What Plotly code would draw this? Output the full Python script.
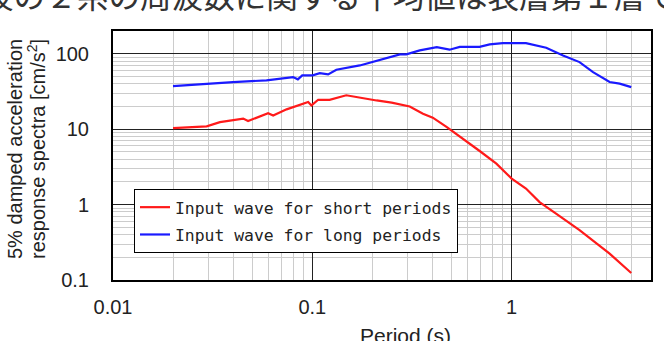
import plotly.graph_objects as go

# ---------------- data ----------------
period_short = [0.020, 0.0295, 0.0344, 0.045, 0.0476, 0.060, 0.0636, 0.0743, 0.0953, 0.099,
                0.107, 0.122, 0.148, 0.180, 0.210, 0.250, 0.308, 0.359, 0.402, 0.471,
                0.570, 0.691, 0.838, 1.00, 1.18, 1.38, 1.67, 2.19, 3.10, 3.98]
accel_short = [10.3, 10.9, 12.4, 13.8, 12.8, 16.3, 15.2, 18.3, 22.9, 20.6,
               24.5, 24.5, 28.1, 25.4, 24.0, 22.5, 20.0, 16.0, 14.2, 10.7,
               7.5, 5.13, 3.49, 2.21, 1.63, 1.08, 0.76, 0.457, 0.224, 0.124]

period_long = [0.020, 0.0295, 0.040, 0.0589, 0.080, 0.0846, 0.089, 0.1004, 0.109, 0.120,
               0.132, 0.173, 0.210, 0.275, 0.296, 0.346, 0.421, 0.488, 0.549, 0.690,
               0.776, 0.902, 1.18, 1.49, 1.81, 2.19, 2.56, 3.10, 3.48, 3.98]
accel_long = [37.2, 40.1, 42.1, 44.3, 49.0, 45.7, 51.6, 51.6, 55.3, 53.2,
              61.4, 69.9, 79.8, 97.9, 98.0, 110.6, 122.0, 113.0, 123.0, 123.0,
              133.0, 138.0, 138.0, 120.0, 94.9, 77.4, 57.0, 42.1, 40.1, 36.1]

series_names = ["Input wave for short periods", "Input wave for long periods"]

x_tickvals = [0.01, 0.1, 1]
x_ticktext = ["0.01", "0.1", "1"]
y_tickvals = [0.1, 1, 10, 100]
y_ticktext = ["0.1", "1", "10", "100"]

x_title = "Period (s)"
y_title_lines = ["5% damped acceleration", "response spectra [cm/s<sup>2</sup>]"]
top_text = "波の２系の周波数に関する平均値は表層第１層で"

# ---------------- layout helpers ----------------
W, H = 664, 341
L, R, T, B = 113, 13, 31, 61
PW, PH = W - L - R, H - T - B

def px_x(p):
    return (p - L) / PW

def px_y(p):
    return (H - B - p) / PH

fig = go.Figure()
fig.add_trace(go.Scatter(x=period_short, y=accel_short, mode="lines",
                         name=series_names[0], legendgroup="a",
                         line=dict(color="#ff1a1a", width=2.2)))
fig.add_trace(go.Scatter(x=period_long, y=accel_long, mode="lines",
                         name=series_names[1], legendgroup="b",
                         line=dict(color="#1a1aff", width=2.2)))

axis_common = dict(
    type="log",
    showline=True, linecolor="black", linewidth=2, mirror=True,
    showgrid=True, gridcolor="#222222", gridwidth=1,
    ticks="", zeroline=False,
    tickfont=dict(family="Liberation Sans, Arial", size=20, color="#222222"),
    minor=dict(dtick="D1", showgrid=True, gridcolor="#cccccc", gridwidth=1, ticks=""),
)

fig.update_xaxes(**axis_common, range=[-2, 0.699],
                 tickvals=x_tickvals, ticktext=x_ticktext, ticklabelstandoff=8)
fig.update_yaxes(**axis_common, range=[-1, 2.301],
                 tickvals=y_tickvals, ticktext=y_ticktext, ticklabelstandoff=18)

annotations = [
    dict(text=x_title, x=px_x(405), y=px_y(322), xref="paper", yref="paper",
         xanchor="center", yanchor="top", showarrow=False,
         font=dict(family="Liberation Sans, Arial", size=21, color="#222222")),
    dict(text=y_title_lines[0], x=px_x(15), y=px_y(149), xref="paper", yref="paper",
         xanchor="center", yanchor="middle", textangle=-90, showarrow=False,
         font=dict(family="Liberation Sans, Arial", size=20, color="#222222")),
    dict(text=y_title_lines[1], x=px_x(36), y=px_y(149), xref="paper", yref="paper",
         xanchor="center", yanchor="middle", textangle=-90, showarrow=False,
         font=dict(family="Liberation Sans, Arial", size=20, color="#222222")),
    dict(text=top_text, x=px_x(-20.5), y=px_y(-6), xref="paper", yref="paper",
         xanchor="left", yanchor="middle", showarrow=False,
         font=dict(family="Noto Sans CJK JP", size=31.6, color="#333333")),
]

fig.update_layout(
    width=W, height=H,
    margin=dict(l=L, r=R, t=T, b=B, pad=0),
    paper_bgcolor="white", plot_bgcolor="white",
    annotations=annotations,
    showlegend=True,
    legend=dict(x=px_x(134), y=px_y(189), xanchor="left", yanchor="top",
                bgcolor="white", bordercolor="black", borderwidth=1,
                tracegroupgap=3,
                font=dict(family="DejaVu Sans Mono, monospace", size=16.4, color="#222222")),
)

fig.write_html("out.html")
